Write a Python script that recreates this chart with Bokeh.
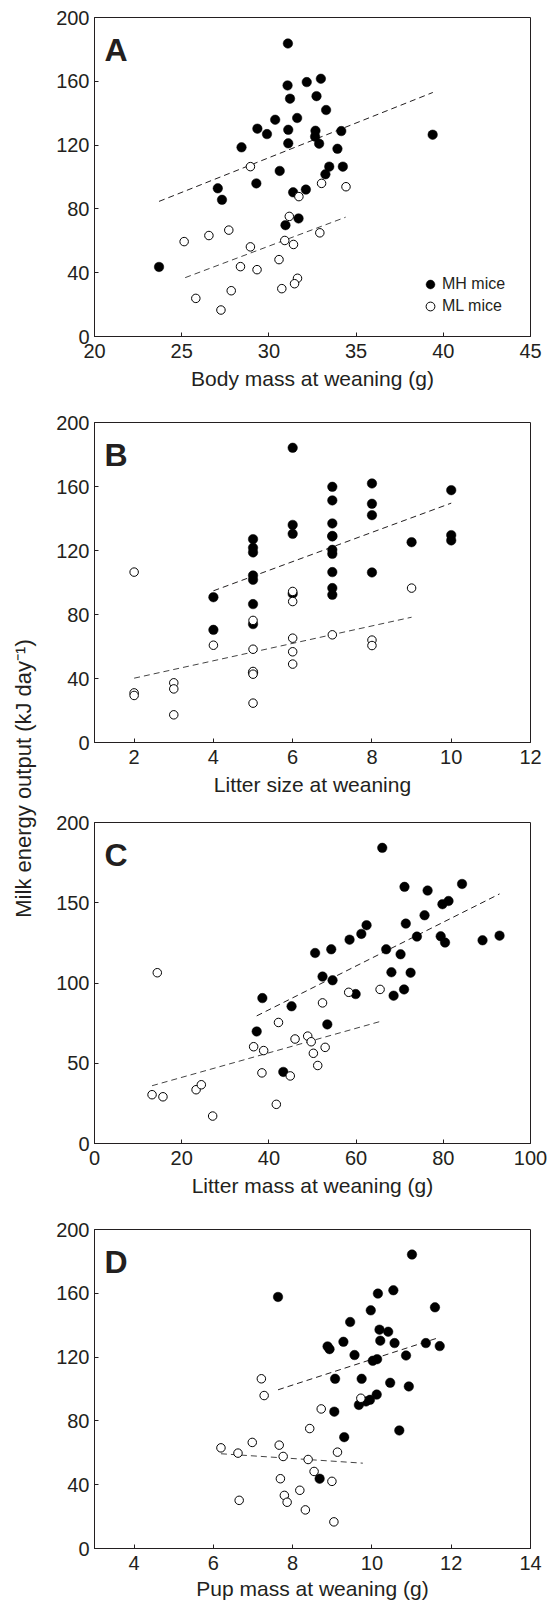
import math
from bokeh.plotting import figure
from bokeh.layouts import row, column
from bokeh.models import Label, Legend, LegendItem, FixedTicker, Range1d
from bokeh.embed import file_html
from bokeh.resources import INLINE

# ---------------- data ----------------
# Panel A: body mass at weaning (g)
A_mh_x = [31.09, 31.07, 32.17, 32.98, 31.21, 32.73, 33.28, 30.36, 31.62, 29.34, 29.89, 31.11,
          32.67, 34.15, 32.65, 32.88, 31.11, 28.43, 33.93, 39.39, 33.46, 34.24, 33.24, 30.62,
          29.28, 27.07, 31.39, 32.12, 27.31, 30.95, 31.70, 23.70]
A_mh_y = [183.7, 157.4, 159.5, 161.6, 149.1, 150.7, 142.0, 135.9, 137.0, 130.3, 126.9, 129.6,
          129.0, 128.8, 125.3, 120.9, 121.1, 118.6, 117.7, 126.5, 106.5, 106.5, 101.7, 103.8,
          96.0, 92.9, 90.4, 92.1, 85.7, 69.8, 74.0, 43.6]
A_ml_x = [28.94, 33.02, 34.42, 31.72, 31.17, 25.14, 26.56, 27.70, 32.92, 28.94, 30.91, 31.41,
          28.37, 29.32, 30.58, 31.64, 31.47, 30.74, 27.84, 25.81, 27.25]
A_ml_y = [106.5, 96.0, 93.9, 87.7, 75.3, 59.5, 63.3, 66.7, 65.0, 56.2, 60.2, 57.7,
          43.8, 41.9, 48.2, 36.5, 33.1, 30.0, 28.7, 23.9, 16.6]
A_fit_mh_x = [23.7, 39.4]
A_fit_mh_y = [84.7, 153.0]
A_fit_ml_x = [25.2, 34.4]
A_fit_ml_y = [36.9, 74.8]

# Panel B: litter size at weaning
B_mh_x = [4, 4, 5, 5, 5, 5, 5, 5, 5, 5, 6, 6, 6, 6, 7, 7, 7, 7, 7, 7, 7, 7, 7, 7,
          8, 8, 8, 8, 9, 10, 10, 10]
B_mh_y = [90.8, 70.4, 127.1, 121.7, 118.8, 104.4, 101.7, 86.5, 74.0, 43.7, 184.2, 136.0,
          130.4, 93.0, 159.8, 151.3, 136.9, 129.1, 128.8, 120.4, 117.9, 106.5, 96.5, 92.3,
          161.9, 149.2, 142.1, 106.3, 125.2, 157.7, 129.6, 126.3]
B_ml_x = [2, 2, 2, 3, 3, 3, 4, 5, 5, 5, 5, 5, 6, 6, 6, 6, 6, 7, 8, 8, 9]
B_ml_y = [106.5, 31.0, 29.4, 37.3, 33.5, 17.3, 60.8, 76.3, 58.3, 44.4, 42.7, 24.6,
          94.4, 88.1, 65.2, 56.7, 49.0, 67.3, 64.0, 60.6, 96.5]
B_fit_mh_x = [4, 10]
B_fit_mh_y = [94.8, 149.6]
B_fit_ml_x = [2, 9]
B_fit_ml_y = [40.2, 78.3]

# Panel C: litter mass at weaning (g)
C_mh_x = [66.0, 71.1, 76.4, 84.3, 79.8, 81.2, 75.7, 71.4, 62.4, 61.2, 58.5, 73.95,
          79.4, 80.4, 89.0, 92.9, 66.9, 54.3, 50.6, 70.2, 52.3, 54.6, 68.1, 72.5,
          71.0, 59.9, 68.6, 38.5, 45.2, 37.2, 53.4, 43.3]
C_mh_y = [184.2, 159.9, 157.6, 161.7, 149.1, 151.1, 142.2, 137.0, 136.0, 130.6, 127.0, 128.9,
          129.1, 125.2, 126.6, 129.5, 121.0, 121.0, 118.7, 117.9, 104.0, 101.7, 106.7, 106.4,
          96.0, 93.1, 92.1, 90.6, 85.5, 69.8, 74.2, 44.6]
C_ml_x = [14.4, 58.3, 65.5, 52.3, 42.2, 36.5, 38.8, 46.0, 48.9, 49.7, 50.2, 52.9,
          51.2, 38.4, 44.9, 13.2, 15.7, 23.3, 24.5, 41.7, 27.1]
C_ml_y = [106.4, 94.2, 96.0, 87.6, 75.4, 60.3, 57.9, 65.1, 66.9, 63.4, 56.2, 59.9,
          48.6, 44.0, 42.1, 30.4, 29.1, 33.5, 36.6, 24.4, 17.1]
C_fit_mh_x = [37.2, 92.9]
C_fit_mh_y = [79.5, 155.5]
C_fit_ml_x = [13.2, 65.5]
C_fit_ml_y = [36.0, 76.0]

# Panel D: pup mass at weaning (g)
D_mh_x = [11.01, 7.63, 10.15, 10.54, 9.97, 11.59, 9.45, 10.19, 10.41, 10.21, 9.28, 10.57,
          8.88, 8.93, 11.36, 11.71, 9.56, 10.86, 10.13, 10.02, 9.07, 9.74, 10.46, 10.93,
          10.12, 9.95, 9.85, 9.67, 9.05, 9.30, 10.69, 8.68]
D_mh_y = [184.3, 157.7, 159.8, 161.9, 149.3, 151.2, 142.0, 137.2, 135.9, 130.3, 129.6, 128.8,
          126.7, 125.0, 128.8, 126.9, 121.3, 121.0, 118.7, 117.7, 106.4, 106.4, 103.9, 101.6,
          96.5, 93.2, 92.2, 90.0, 85.8, 69.8, 74.0, 43.75]
D_ml_x = [7.21, 7.28, 9.72, 8.72, 8.43, 6.19, 6.62, 6.98, 7.66, 7.76, 8.39, 9.13,
          8.54, 7.69, 8.99, 8.18, 7.79, 7.86, 6.65, 8.32, 9.04]
D_ml_y = [106.4, 95.9, 94.2, 87.5, 75.2, 63.1, 59.8, 66.5, 64.8, 57.7, 55.8, 60.4,
          48.3, 43.75, 42.1, 36.5, 33.3, 29.0, 30.2, 24.2, 16.7]
D_fit_mh_x = [7.63, 11.71]
D_fit_mh_y = [99.5, 132.4]
D_fit_ml_x = [6.19, 9.77]
D_fit_ml_y = [59.4, 53.5]

# axes
A_xticks = [20, 25, 30, 35, 40, 45]
B_xticks = [2, 4, 6, 8, 10, 12]
C_xticks = [0, 20, 40, 60, 80, 100]
D_xticks = [4, 6, 8, 10, 12, 14]
yticks_40 = [0, 40, 80, 120, 160, 200]
yticks_50 = [0, 50, 100, 150, 200]
y_label = "Milk energy output (kJ day\u207b\u00b9)"

# ---------------- styling ----------------
FONT = "Liberation Sans"
TXT = "#231f20"
LABEL_W = 40


def panel(letter, xr, xticks, yticks, xlabel, mh_x, mh_y, ml_x, ml_y,
          fmx, fmy, flx, fly, top, fh, bottom, title_standoff, legend=False):
    p = figure(frame_width=436, frame_height=fh,
               min_border_left=54, min_border_right=22,
               min_border_top=top, min_border_bottom=bottom,
               x_range=Range1d(*xr), y_range=Range1d(0, 200),
               output_backend="svg", toolbar_location=None, tools="")
    p.grid.visible = False
    p.outline_line_color = TXT
    p.outline_line_width = 1
    p.background_fill_color = "white"
    p.border_fill_color = "white"
    p.xaxis.ticker = FixedTicker(ticks=xticks)
    p.yaxis.ticker = FixedTicker(ticks=yticks)
    for ax in (p.xaxis[0], p.yaxis[0]):
        ax.major_label_text_font = FONT
        ax.major_label_text_font_size = "20px"
        ax.major_label_text_color = TXT
        ax.axis_line_color = TXT
        ax.major_tick_line_color = TXT
        ax.major_tick_in = 4
        ax.major_tick_out = 0
        ax.minor_tick_in = 0
        ax.minor_tick_out = 0
    p.xaxis.major_label_standoff = 7
    p.yaxis.major_label_standoff = 5
    p.xaxis.axis_label = xlabel
    p.xaxis.axis_label_text_font = FONT
    p.xaxis.axis_label_text_font_size = "21px"
    p.xaxis.axis_label_text_font_style = "normal"
    p.xaxis.axis_label_text_color = TXT
    p.xaxis.axis_label_standoff = title_standoff

    p.line(fmx, fmy, line_color=TXT, line_width=1, line_dash="6 4")
    p.line(flx, fly, line_color="#444444", line_width=1, line_dash="6 4")
    r_mh = p.scatter(mh_x, mh_y, marker="circle", size=9.5, fill_color="black",
                     line_color="black", line_width=0.5)
    r_ml = p.scatter(ml_x, ml_y, marker="circle", size=8.5, fill_color="white",
                     line_color="black", line_width=1)

    p.add_layout(Label(x=xr[0], y=200, x_offset=10, y_offset=-14, text=letter,
                       text_font=FONT, text_font_style="bold", text_font_size="32px",
                       text_color=TXT, text_baseline="top", text_align="left"))
    if legend:
        lg = Legend(items=[LegendItem(label="MH mice", renderers=[r_mh]),
                           LegendItem(label="ML mice", renderers=[r_ml])],
                    location=(325, 19), orientation="vertical",
                    border_line_color=None, background_fill_alpha=0,
                    label_text_font=FONT, label_text_font_size="16px",
                    label_text_color=TXT, glyph_width=22, glyph_height=22,
                    label_standoff=1, spacing=0, padding=0, margin=0, label_height=22)
        p.add_layout(lg)
    return p


pA = panel("A", (20, 45), A_xticks, yticks_40, "Body mass at weaning (g)",
           A_mh_x, A_mh_y, A_ml_x, A_ml_y, A_fit_mh_x, A_fit_mh_y, A_fit_ml_x, A_fit_ml_y,
           17, 319, 64, 6, legend=True)
pB = panel("B", (1, 12), B_xticks, yticks_40, "Litter size at weaning",
           B_mh_x, B_mh_y, B_ml_x, B_ml_y, B_fit_mh_x, B_fit_mh_y, B_fit_ml_x, B_fit_ml_y,
           22, 320, 60, 6)
pC = panel("C", (0, 100), C_xticks, yticks_50, "Litter mass at weaning (g)",
           C_mh_x, C_mh_y, C_ml_x, C_ml_y, C_fit_mh_x, C_fit_mh_y, C_fit_ml_x, C_fit_ml_y,
           20, 321, 62, 6)
pD = panel("D", (3, 14), D_xticks, yticks_40, "Pup mass at weaning (g)",
           D_mh_x, D_mh_y, D_ml_x, D_ml_y, D_fit_mh_x, D_fit_mh_y, D_fit_ml_x, D_fit_ml_y,
           24, 319, 57, 4)

# shared y-axis label
pl = figure(width=LABEL_W, height=1605, x_range=Range1d(0, LABEL_W), y_range=Range1d(1605, 0),
            x_axis_location=None, y_axis_location=None, min_border=0,
            output_backend="svg", toolbar_location=None, tools="")
pl.grid.visible = False
pl.outline_line_color = None
pl.add_layout(Label(x=23, y=778, text=y_label, angle=math.pi / 2, text_font=FONT,
                    text_font_size="22px", text_color=TXT, text_align="center",
                    text_baseline="middle"))

layout = row(pl, column(pA, pB, pC, pD, spacing=0), spacing=0)
open("out.html", "w").write(file_html(layout, INLINE))
